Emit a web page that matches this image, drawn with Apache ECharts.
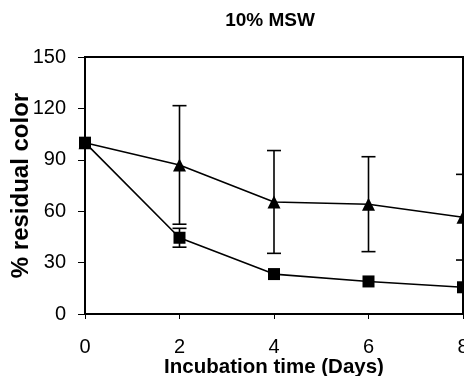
<!DOCTYPE html>
<html>
<head>
<meta charset="utf-8">
<script src="https://cdn.jsdelivr.net/npm/echarts@6/dist/echarts.min.js"></script>
<style>
	html, body { margin: 0; padding: 0; background: #fff; }
	#chart { width: 464px; height: 376px; }
</style>
</head>
<body>
<div id="chart"></div>
<script>
const days = [0, 2, 4, 6, 8];
const squareMean = [100, 44.5, 23.3, 19, 15.6];
const squareErr = [0, 5.5, 0, 0, 0];
const triangleMean = [100, 87, 65.4, 64.1, 56.5];
const triangleErr = [0, 34.6, 30, 27.7, 25];

const font = "'Liberation Sans', Arial, sans-serif";
const ink = "#000";

const pairs = (ys) => days.map((d, i) => [d, ys[i]]);
const bars = (means, errs) => days
	.map((d, i) => [d, means[i] - errs[i], means[i] + errs[i]])
	.filter((row, i) => errs[i] > 0);

const errorBar = (params, api) => {
	const low = api.coord([api.value(0), api.value(1)]);
	const high = api.coord([api.value(0), api.value(2)]);
	const half = 7;
	const style = { stroke: ink, lineWidth: 1.6 };
	return {
		type: "group",
		children: [
			{ type: "line", shape: { x1: low[0], y1: low[1], x2: high[0], y2: high[1] }, style },
			{ type: "line", shape: { x1: low[0] - half, y1: low[1], x2: low[0] + half, y2: low[1] }, style },
			{ type: "line", shape: { x1: high[0] - half, y1: high[1], x2: high[0] + half, y2: high[1] }, style }
		]
	};
};

const chart = echarts.init(document.getElementById("chart"), null, { renderer: "canvas" });
chart.setOption({
	animation: false,
	title: {
		text: "10% MSW",
		left: 265,
		top: 6,
		textAlign: "center",
		textStyle: { fontFamily: font, fontSize: 19, fontWeight: "bold", color: ink }
	},
	grid: {
		left: 85, right: 1, top: 57, bottom: 62,
		containLabel: false, outerBoundsMode: "none",
		show: true, borderColor: ink, borderWidth: 2
	},
	xAxis: {
		type: "value",
		min: 0,
		max: 8,
		interval: 2,
		name: "Incubation time (Days)",
		nameLocation: "middle",
		nameGap: 43,
		nameMoveOverlap: false,
		nameTextStyle: { fontFamily: font, fontSize: 20.5, fontWeight: "bold", color: ink },
		axisLine: { lineStyle: { color: ink, width: 2 } },
		axisTick: { show: true, length: 5, lineStyle: { color: ink, width: 1 } },
		axisLabel: { margin: 23, fontFamily: font, fontSize: 20, color: ink, showMaxLabel: true },
		splitLine: { show: false }
	},
	yAxis: {
		type: "value",
		min: 0,
		max: 150,
		interval: 30,
		name: "% residual color",
		nameLocation: "middle",
		nameGap: 52,
		nameMoveOverlap: false,
		nameTextStyle: { fontFamily: font, fontSize: 24, fontWeight: "bold", color: ink },
		axisLine: { show: true, lineStyle: { color: ink, width: 2 } },
		axisTick: { show: true, length: 7, lineStyle: { color: ink, width: 1 } },
		axisLabel: { margin: 19, fontFamily: font, fontSize: 20, color: ink },
		splitLine: { show: false }
	},
	series: [
		{
			name: "triangle error",
			type: "custom",
			renderItem: errorBar,
			data: bars(triangleMean, triangleErr),
			z: 1
		},
		{
			name: "square error",
			type: "custom",
			renderItem: errorBar,
			data: bars(squareMean, squareErr),
			z: 1
		},
		{
			name: "triangle",
			type: "line",
			data: pairs(triangleMean),
			symbol: "triangle",
			symbolSize: 13,
			itemStyle: { color: ink },
			lineStyle: { color: ink, width: 1.6 },
			z: 3
		},
		{
			name: "square",
			type: "line",
			data: pairs(squareMean),
			symbol: "rect",
			symbolSize: 12,
			itemStyle: { color: ink },
			lineStyle: { color: ink, width: 1.6 },
			z: 4
		}
	]
});
</script>
</body>
</html>
